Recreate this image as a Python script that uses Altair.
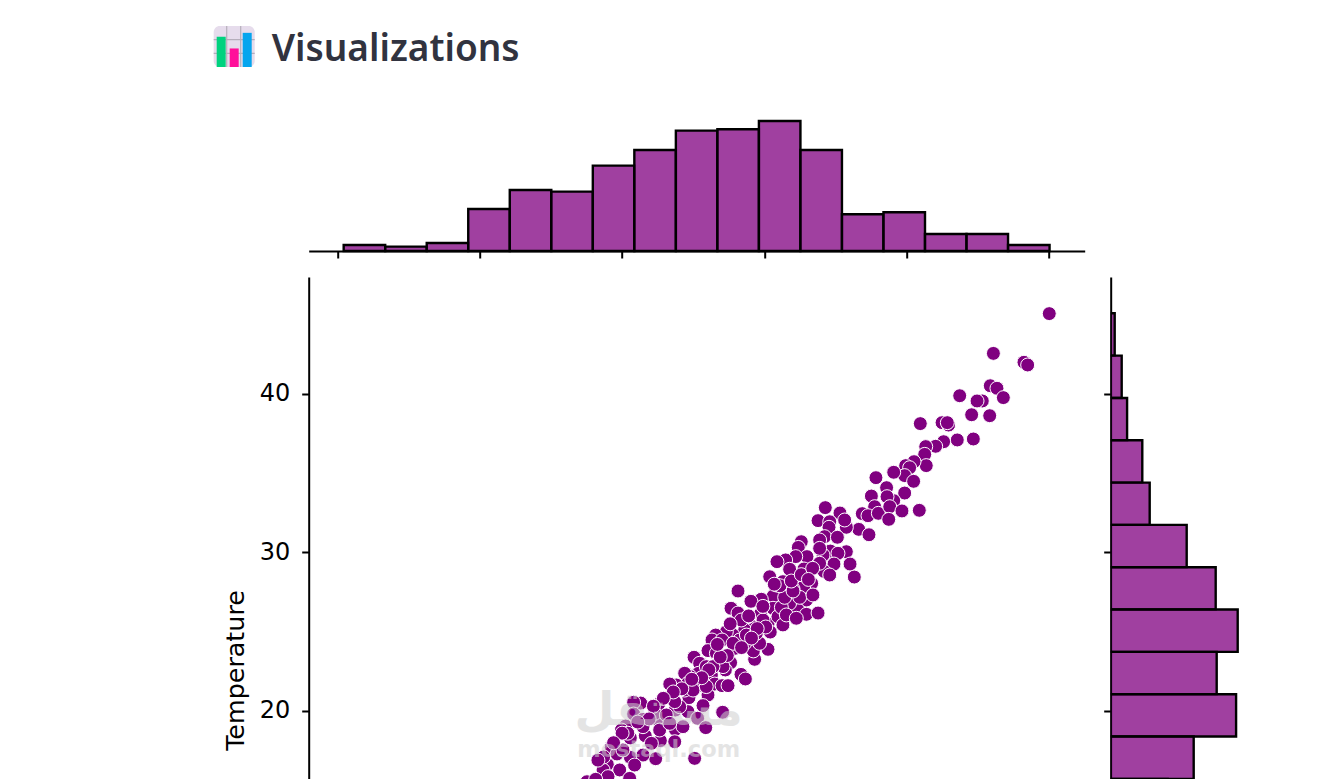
import altair as alt
import pandas as pd

# ---------- histogram along the top (x variable) ----------
top_edges = [0.42, 3.34, 6.26, 9.18, 12.10, 15.02, 17.94, 20.86, 23.78, 26.70,
             29.62, 32.54, 35.46, 38.38, 41.30, 44.22, 47.14, 50.06]
top_counts = [3, 2.2, 4, 21, 30.5, 29.7, 42.7, 50.5, 60.2, 60.9, 65, 50.5, 18.4, 19.4, 8.5, 8.5, 3]

# ---------- histogram on the right (Temperature) ----------
right_edges = [45.09, 42.42, 39.75, 37.08, 34.41, 31.74, 29.07, 26.40, 23.73, 21.06, 18.39, 15.72, 13.05]
right_counts = [2, 5.5, 8.2, 15.8, 19.5, 38, 52.5, 63.5, 53, 62.7, 41.5, 28.5]

# ---------- scatter ----------
xs = [50.04,46.11,48.26,48.52,45.89,46.36,46.81,43.74,45.33,44.96,44.58,45.85,40.97,42.50,42.96,42.87,44.70,43.57,42.61,42.05,
      41.35,41.28,41.39,40.53,39.94,40.22,39.87,40.50,39.10,37.85,38.60,39.87,37.53,39.10,38.63,37.76,36.89,37.29,38.02,38.82,
      38.75,39.68,40.90,36.64,37.36,34.29,35.32,33.78,34.60,35.77,35.65,34.55,34.24,35.14,32.60,32.39,33.89,35.77,34.64,34.13,
      35.18,33.00,32.21,31.50,31.78,32.79,33.89,34.90,36.03,34.20,34.60,36.33,33.33,32.77,32.02,31.31,33.89,
      30.38,30.89,30.63,30.61,30.85,29.79,29.06,28.15,27.66,28.15,29.74,30.26,30.42,30.96,29.09,28.62,30.26,29.32,29.23,28.62,
      29.67,27.92,27.80,27.33,28.27,26.58,26.32,27.03,26.04,26.63,27.10,27.63,26.79,27.26,25.06,25.45,28.36,28.67,26.28,25.38,
      24.80,24.40,24.63,25.34,26.51,27.03,27.45,23.81,23.35,26.04,24.70,24.40,25.69,23.74,24.63,24.05,23.70,25.31,25.88,27.07,
      25.10,22.57,21.31,20.81,20.81,21.47,22.64,22.29,23.11,20.25,19.95,23.74,24.28,21.63,20.58,22.69,23.70,22.06,21.47,19.24,
      19.64,20.58,22.36,21.47,20.06,18.96,19.83,18.66,20.53,19.01,17.53,18.14,20.88,22.64,23.35,
      28.74,29.44,29.91,28.85,28.38,27.10,25.92,24.99,25.92,26.39,27.80,
      32.96,32.37,32.96,33.78,31.31,31.78,32.49,31.20,31.55,32.25,31.43,33.42,32.02,
      30.10,29.50,29.10,28.40,27.40,26.90,26.10,25.60,24.90,24.20,23.60,22.90,22.20,21.90,21.10,20.40,20.00,19.40,18.70,18.30,
      31.10,31.90,32.60,33.40,33.10,30.70,29.90,28.90,27.60,26.70]
ys = [45.07,42.56,42.00,41.83,40.52,40.36,39.77,39.89,39.56,39.56,38.69,38.63,38.13,38.19,38.04,38.19,37.16,37.10,36.99,36.70,
      36.68,36.19,35.48,35.73,35.48,35.35,34.85,34.49,35.06,34.72,34.09,33.75,33.56,33.27,33.52,32.89,32.45,32.32,32.47,32.89,
      32.09,32.62,32.66,31.46,31.12,32.83,32.49,32.01,31.94,31.59,32.05,31.59,31.00,30.96,30.68,30.32,30.79,30.05,30.09,29.84,
      29.95,29.74,29.74,29.53,28.94,28.96,30.26,29.27,29.27,28.81,28.58,28.45,28.05,27.84,27.70,28.16,29.32,
      28.47,29.42,27.26,26.48,27.95,27.05,26.92,27.57,26.48,26.18,26.14,25.49,24.98,25.95,25.36,25.11,23.89,23.26,23.79,24.27,
      24.27,23.95,24.79,25.00,24.48,24.79,24.48,24.48,23.81,23.64,23.43,23.05,23.11,22.59,23.39,23.01,22.31,22.02,22.27,22.38,
      22.17,22.38,21.75,21.60,21.70,21.60,21.60,21.64,21.70,21.01,20.84,21.32,20.34,20.06,19.96,20.27,20.59,19.54,18.95,19.92,
      17.01,20.44,20.50,20.55,19.81,19.47,19.28,19.85,19.75,19.05,18.80,18.84,19.01,18.44,18.30,18.13,18.06,17.96,19.01,17.71,
      17.29,17.08,16.99,17.22,17.54,16.63,16.28,16.28,15.75,15.86,15.54,15.69,16.59,18.80,19.22,
      24.79,24.90,25.74,25.95,25.74,22.80,22.80,21.32,21.54,22.80,24.27,
      27.00,26.37,26.10,26.18,25.43,26.79,27.17,26.54,26.06,25.85,27.17,27.32,27.57,
      25.30,25.20,24.60,24.00,23.50,23.40,22.60,22.10,22.00,21.40,21.20,20.80,20.30,19.50,19.30,18.60,18.60,18.00,17.10,16.90,
      27.90,28.20,28.60,29.00,28.30,28.00,26.60,26.00,25.50,24.20]

x_ticks = [0, 10, 20, 30, 40, 50]
y_ticks = [20, 30, 40]
x_domain = [-2.04, 52.53]
y_domain = [15.71, 47.38]
count_domain = [0, 70]
y_title = "Temperature"
heading = "Visualizations"
wm_ar = "مستقل"
wm_en = "mostaql.com"

# ---------- little chart icon ----------
icon_names = ["a", "b", "c"]
icon_x0 = [3, 16, 29]
icon_x1 = [12, 25, 38]
icon_top = [31, 19, 35]
icon_colors = ["#00D27F", "#FF0F9A", "#05A5EE"]
icon_grid_v = [13, 27]
icon_grid_h = [14, 28]

PURPLE = "#800080"
W, H = 776, 502
SIDE = 140
HEAD_H = 85
DEJA = "DejaVu Sans"

top_df = pd.DataFrame({"x0": top_edges[:-1], "x1": top_edges[1:], "n": top_counts, "zero": [0]*len(top_counts)})
right_df = pd.DataFrame({"y0": right_edges[:-1], "y1": right_edges[1:], "n": right_counts, "zero": [0]*len(right_counts)})
pts = pd.DataFrame({"x": xs, "y": ys})

axis_kw = dict(domainColor="black", domainWidth=2, tickColor="black", tickWidth=2, tickSize=7, grid=False)

x_scale = alt.Scale(domain=x_domain, nice=False, zero=False)
y_scale = alt.Scale(domain=y_domain, nice=False, zero=False)

# header
ix = alt.Scale(domain=[0, 41], range=[-95, -54])
iy = alt.Scale(domain=[0, 42], range=[59, 18])
bg = alt.Chart(pd.DataFrame({"a": [0], "b": [41], "c": [0], "d": [42]})).mark_rect(
    color="#E6DCEC", cornerRadius=6
).encode(
    x=alt.X("a:Q", scale=ix, axis=None), x2="b:Q",
    y=alt.Y("c:Q", scale=iy, axis=None), y2="d:Q")
gv = alt.Chart(pd.DataFrame({"v": icon_grid_v})).mark_rule(color="#B5AEBB", strokeWidth=1.2).encode(
    x=alt.X("v:Q", scale=ix, axis=None), y=alt.value(18), y2=alt.value(59))
gh = alt.Chart(pd.DataFrame({"v": icon_grid_h})).mark_rule(color="#B5AEBB", strokeWidth=1.2).encode(
    y=alt.Y("v:Q", scale=iy, axis=None), x=alt.value(-95), x2=alt.value(-54))
ibars = alt.Chart(pd.DataFrame({"n": icon_names, "a": icon_x0, "b": icon_x1, "t": icon_top,
                                "z": [0, 0, 0], "col": icon_colors})).mark_rect().encode(
    x=alt.X("a:Q", scale=ix, axis=None), x2="b:Q",
    y=alt.Y("z:Q", scale=iy, axis=None), y2="t:Q",
    color=alt.Color("col:N", scale=None))
htext = alt.Chart(pd.DataFrame({"t": [heading]})).mark_text(
    font="Noto Sans", fontSize=37, fontWeight=600, color="#31333F", align="left", baseline="middle"
).encode(text="t:N", x=alt.value(-37), y=alt.value(42))
header = alt.layer(bg, gv, gh, ibars, htext).resolve_scale(x="shared", y="shared").properties(width=W, height=HEAD_H)

def blank(h):
    return alt.Chart(pd.DataFrame({"t": [" "]})).mark_text().encode(
        text="t:N", x=alt.value(0), y=alt.value(20)).properties(width=SIDE, height=h)

# top marginal
top = alt.Chart(top_df).mark_rect(fill=PURPLE, fillOpacity=0.75, stroke="black", strokeWidth=2.4).encode(
    x=alt.X("x0:Q", scale=x_scale, axis=alt.Axis(values=x_ticks, labels=False, title=None, **axis_kw)),
    x2="x1:Q",
    y=alt.Y("zero:Q", scale=alt.Scale(domain=count_domain), axis=None),
    y2="n:Q",
).properties(width=W, height=SIDE)

# scatter
scat = alt.Chart(pts).mark_point(filled=True, fill=PURPLE, fillOpacity=1, stroke="white", strokeWidth=1,
                                 strokeOpacity=1, size=195, clip=True).encode(
    x=alt.X("x:Q", scale=x_scale, axis=None),
    y=alt.Y("y:Q", scale=y_scale, axis=alt.Axis(
        values=y_ticks, title=y_title, titleFont=DEJA, titleFontSize=25.4, titleFontWeight="normal",
        titleColor="black", titleX=-60, titleY=393, labelFont=DEJA, labelFontSize=24, labelColor="black",
        labelPadding=12, **axis_kw)),
)
wm1 = alt.Chart(pd.DataFrame({"t": [wm_ar]})).mark_text(
    font=DEJA, fontSize=46, fontWeight="bold", color="#cfcfcf", opacity=0.55, align="center", baseline="middle"
).encode(text="t:N", x=alt.value(350), y=alt.value(434))
wm2 = alt.Chart(pd.DataFrame({"t": [wm_en]})).mark_text(
    font=DEJA, fontSize=22.5, fontWeight="bold", color="#cfcfcf", opacity=0.55, align="center", baseline="middle"
).encode(text="t:N", x=alt.value(350), y=alt.value(473))
main = alt.layer(scat, wm1, wm2).properties(width=W, height=H)

# right marginal
right = alt.Chart(right_df).mark_rect(fill=PURPLE, fillOpacity=0.75, stroke="black", strokeWidth=2.4, clip=True).encode(
    y=alt.Y("y0:Q", scale=y_scale, axis=alt.Axis(values=y_ticks, labels=False, title=None, **axis_kw)),
    y2="y1:Q",
    x=alt.X("zero:Q", scale=alt.Scale(domain=count_domain), axis=None),
    x2="n:Q",
).properties(width=SIDE, height=H)

chart = alt.concat(header, blank(HEAD_H), top, blank(SIDE), main, right, columns=2, spacing=18).properties(
    align="each", padding={"left": 204.7, "top": 0, "right": 0, "bottom": 0}
).configure_view(stroke=None)

chart.save("out.html", embed_options={"renderer": "svg", "actions": False})
